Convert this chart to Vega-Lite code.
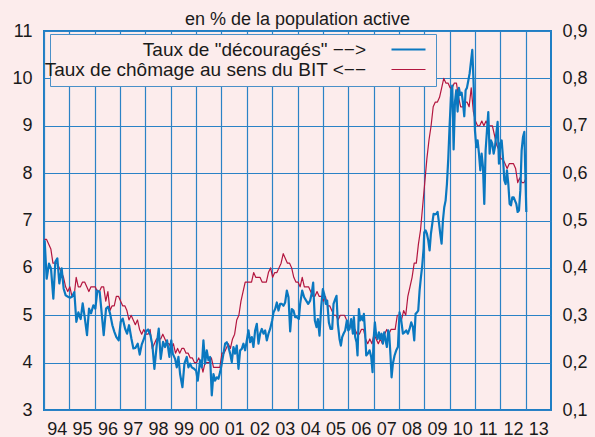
{
  "$schema": "https://vega.github.io/schema/vega-lite/v6.json",
  "width": 507,
  "height": 379,
  "autosize": {"type": "none"},
  "padding": {"left": 44, "top": 31, "right": 44, "bottom": 27},
  "background": "#fcecec",
  "config": {
    "font": "Liberation Sans",
    "view": {"stroke": "#1f7ec4", "strokeWidth": 2, "fill": "#fcecec"},
    "axis": {
      "labelFont": "Liberation Sans",
      "labelFontSize": 18,
      "labelColor": "#1a1a1a",
      "gridColor": "#2a82c6",
      "gridWidth": 1.2,
      "gridOpacity": 1,
      "ticks": false,
      "tickSize": 0,
      "domain": false,
      "title": null
    }
  },
  "title": {
    "text": "en % de la population active",
    "fontSize": 18,
    "fontWeight": "normal",
    "font": "Liberation Sans",
    "color": "#1a1a1a",
    "offset": -7,
    "anchor": "middle"
  },
  "datasets": {
    "chomage": [
      {"t":1994.02,"v":6.6},{"t":1994.103,"v":6.6},{"t":1994.187,"v":6.5},{"t":1994.27,"v":6.4},{"t":1994.353,"v":6.1},{"t":1994.437,"v":6.1},{"t":1994.52,"v":6.1},{"t":1994.603,"v":6.0},{"t":1994.687,"v":5.9},{"t":1994.77,"v":5.8},{"t":1994.853,"v":5.6},{"t":1994.937,"v":5.5},
      {"t":1995.02,"v":5.6},{"t":1995.103,"v":5.4},{"t":1995.187,"v":5.4},{"t":1995.27,"v":5.8},{"t":1995.353,"v":5.6},{"t":1995.437,"v":5.6},{"t":1995.52,"v":5.7},{"t":1995.603,"v":5.7},{"t":1995.687,"v":5.6},{"t":1995.77,"v":5.5},{"t":1995.853,"v":5.6},{"t":1995.937,"v":5.6},
      {"t":1996.02,"v":5.6},{"t":1996.103,"v":5.5},{"t":1996.187,"v":5.5},{"t":1996.27,"v":5.6},{"t":1996.353,"v":5.6},{"t":1996.437,"v":5.3},{"t":1996.52,"v":5.5},{"t":1996.603,"v":5.1},{"t":1996.687,"v":5.2},{"t":1996.77,"v":5.2},{"t":1996.853,"v":5.4},{"t":1996.937,"v":5.4},
      {"t":1997.02,"v":5.3},{"t":1997.103,"v":5.2},{"t":1997.187,"v":5.2},{"t":1997.27,"v":5.1},{"t":1997.353,"v":4.9},{"t":1997.437,"v":5.0},{"t":1997.52,"v":4.9},{"t":1997.603,"v":4.8},{"t":1997.687,"v":4.9},{"t":1997.77,"v":4.7},{"t":1997.853,"v":4.6},{"t":1997.937,"v":4.7},
      {"t":1998.02,"v":4.6},{"t":1998.103,"v":4.6},{"t":1998.187,"v":4.7},{"t":1998.27,"v":4.3},{"t":1998.353,"v":4.4},{"t":1998.437,"v":4.5},{"t":1998.52,"v":4.5},{"t":1998.603,"v":4.5},{"t":1998.687,"v":4.6},{"t":1998.77,"v":4.5},{"t":1998.853,"v":4.4},{"t":1998.937,"v":4.4},
      {"t":1999.02,"v":4.3},{"t":1999.103,"v":4.4},{"t":1999.187,"v":4.2},{"t":1999.27,"v":4.3},{"t":1999.353,"v":4.2},{"t":1999.437,"v":4.3},{"t":1999.52,"v":4.3},{"t":1999.603,"v":4.2},{"t":1999.687,"v":4.2},{"t":1999.77,"v":4.1},{"t":1999.853,"v":4.1},{"t":1999.937,"v":4.0},
      {"t":2000.02,"v":4.0},{"t":2000.103,"v":4.1},{"t":2000.187,"v":4.0},{"t":2000.27,"v":3.8},{"t":2000.353,"v":4.0},{"t":2000.437,"v":4.0},{"t":2000.52,"v":4.0},{"t":2000.603,"v":4.1},{"t":2000.687,"v":3.9},{"t":2000.77,"v":3.9},{"t":2000.853,"v":3.9},{"t":2000.937,"v":3.9},
      {"t":2001.02,"v":4.2},{"t":2001.103,"v":4.2},{"t":2001.187,"v":4.3},{"t":2001.27,"v":4.4},{"t":2001.353,"v":4.3},{"t":2001.437,"v":4.5},{"t":2001.52,"v":4.6},{"t":2001.603,"v":4.9},{"t":2001.687,"v":5.0},{"t":2001.77,"v":5.3},{"t":2001.853,"v":5.5},{"t":2001.937,"v":5.7},
      {"t":2002.02,"v":5.7},{"t":2002.103,"v":5.7},{"t":2002.187,"v":5.7},{"t":2002.27,"v":5.9},{"t":2002.353,"v":5.8},{"t":2002.437,"v":5.8},{"t":2002.52,"v":5.8},{"t":2002.603,"v":5.7},{"t":2002.687,"v":5.7},{"t":2002.77,"v":5.7},{"t":2002.853,"v":5.9},{"t":2002.937,"v":6.0},
      {"t":2003.02,"v":5.8},{"t":2003.103,"v":5.9},{"t":2003.187,"v":5.9},{"t":2003.27,"v":6.0},{"t":2003.353,"v":6.1},{"t":2003.437,"v":6.3},{"t":2003.52,"v":6.2},{"t":2003.603,"v":6.1},{"t":2003.687,"v":6.1},{"t":2003.77,"v":6.0},{"t":2003.853,"v":5.8},{"t":2003.937,"v":5.7},
      {"t":2004.02,"v":5.7},{"t":2004.103,"v":5.6},{"t":2004.187,"v":5.8},{"t":2004.27,"v":5.6},{"t":2004.353,"v":5.6},{"t":2004.437,"v":5.6},{"t":2004.52,"v":5.5},{"t":2004.603,"v":5.4},{"t":2004.687,"v":5.4},{"t":2004.77,"v":5.5},{"t":2004.853,"v":5.4},{"t":2004.937,"v":5.4},
      {"t":2005.02,"v":5.3},{"t":2005.103,"v":5.4},{"t":2005.187,"v":5.2},{"t":2005.27,"v":5.2},{"t":2005.353,"v":5.1},{"t":2005.437,"v":5.0},{"t":2005.52,"v":5.0},{"t":2005.603,"v":4.9},{"t":2005.687,"v":5.0},{"t":2005.77,"v":5.0},{"t":2005.853,"v":5.0},{"t":2005.937,"v":4.9},
      {"t":2006.02,"v":4.7},{"t":2006.103,"v":4.8},{"t":2006.187,"v":4.7},{"t":2006.27,"v":4.7},{"t":2006.353,"v":4.6},{"t":2006.437,"v":4.6},{"t":2006.52,"v":4.7},{"t":2006.603,"v":4.7},{"t":2006.687,"v":4.5},{"t":2006.77,"v":4.4},{"t":2006.853,"v":4.5},{"t":2006.937,"v":4.4},
      {"t":2007.02,"v":4.6},{"t":2007.103,"v":4.5},{"t":2007.187,"v":4.4},{"t":2007.27,"v":4.5},{"t":2007.353,"v":4.4},{"t":2007.437,"v":4.6},{"t":2007.52,"v":4.7},{"t":2007.603,"v":4.6},{"t":2007.687,"v":4.7},{"t":2007.77,"v":4.7},{"t":2007.853,"v":4.7},{"t":2007.937,"v":5.0},
      {"t":2008.02,"v":5.0},{"t":2008.103,"v":4.9},{"t":2008.187,"v":5.1},{"t":2008.27,"v":5.0},{"t":2008.353,"v":5.4},{"t":2008.437,"v":5.6},{"t":2008.52,"v":5.8},{"t":2008.603,"v":6.1},{"t":2008.687,"v":6.1},{"t":2008.77,"v":6.5},{"t":2008.853,"v":6.8},{"t":2008.937,"v":7.3},
      {"t":2009.02,"v":7.8},{"t":2009.103,"v":8.3},{"t":2009.187,"v":8.7},{"t":2009.27,"v":9.0},{"t":2009.353,"v":9.4},{"t":2009.437,"v":9.5},{"t":2009.52,"v":9.5},{"t":2009.603,"v":9.6},{"t":2009.687,"v":9.8},{"t":2009.77,"v":10.0},{"t":2009.853,"v":9.9},{"t":2009.937,"v":9.9},
      {"t":2010.02,"v":9.8},{"t":2010.103,"v":9.8},{"t":2010.187,"v":9.9},{"t":2010.27,"v":9.9},{"t":2010.353,"v":9.6},{"t":2010.437,"v":9.4},{"t":2010.52,"v":9.4},{"t":2010.603,"v":9.5},{"t":2010.687,"v":9.5},{"t":2010.77,"v":9.4},{"t":2010.853,"v":9.8},{"t":2010.937,"v":9.3},
      {"t":2011.02,"v":9.1},{"t":2011.103,"v":9.0},{"t":2011.187,"v":9.0},{"t":2011.27,"v":9.1},{"t":2011.353,"v":9.0},{"t":2011.437,"v":9.1},{"t":2011.52,"v":9.0},{"t":2011.603,"v":9.0},{"t":2011.687,"v":9.0},{"t":2011.77,"v":8.8},{"t":2011.853,"v":8.6},{"t":2011.937,"v":8.5},
      {"t":2012.02,"v":8.3},{"t":2012.103,"v":8.3},{"t":2012.187,"v":8.2},{"t":2012.27,"v":8.1},{"t":2012.353,"v":8.2},{"t":2012.437,"v":8.2},{"t":2012.52,"v":8.2},{"t":2012.603,"v":8.1},{"t":2012.687,"v":7.8},{"t":2012.77,"v":7.9},{"t":2012.853,"v":7.8},{"t":2012.937,"v":7.8},
      {"t":2013.02,"v":7.9}
    ],
    "decourages": [
      {"t":1994.026,"v":0.458},{"t":1994.105,"v":0.377},{"t":1994.197,"v":0.409},{"t":1994.276,"v":0.399},{"t":1994.368,"v":0.335},{"t":1994.447,"v":0.413},{"t":1994.526,"v":0.42},{"t":1994.605,"v":0.367},{"t":1994.697,"v":0.399},{"t":1994.776,"v":0.356},{"t":1994.855,"v":0.342},{"t":1994.947,"v":0.339},
      {"t":1995.026,"v":0.337},{"t":1995.105,"v":0.339},{"t":1995.197,"v":0.349},{"t":1995.276,"v":0.286},{"t":1995.355,"v":0.306},{"t":1995.447,"v":0.292},{"t":1995.526,"v":0.325},{"t":1995.605,"v":0.296},{"t":1995.697,"v":0.258},{"t":1995.776,"v":0.314},{"t":1995.855,"v":0.304},{"t":1995.947,"v":0.321},
      {"t":1996.026,"v":0.314},{"t":1996.105,"v":0.352},{"t":1996.197,"v":0.349},{"t":1996.276,"v":0.304},{"t":1996.355,"v":0.258},{"t":1996.447,"v":0.314},{"t":1996.526,"v":0.318},{"t":1996.605,"v":0.304},{"t":1996.697,"v":0.279},{"t":1996.776,"v":0.265},{"t":1996.855,"v":0.254},{"t":1996.947,"v":0.247},
      {"t":1997.026,"v":0.286},{"t":1997.105,"v":0.293},{"t":1997.197,"v":0.272},{"t":1997.276,"v":0.261},{"t":1997.355,"v":0.279},{"t":1997.447,"v":0.251},{"t":1997.526,"v":0.23},{"t":1997.605,"v":0.231},{"t":1997.697,"v":0.24},{"t":1997.776,"v":0.217},{"t":1997.855,"v":0.238},{"t":1997.947,"v":0.251},
      {"t":1998.026,"v":0.266},{"t":1998.105,"v":0.27},{"t":1998.197,"v":0.258},{"t":1998.276,"v":0.237},{"t":1998.355,"v":0.187},{"t":1998.447,"v":0.237},{"t":1998.526,"v":0.272},{"t":1998.605,"v":0.208},{"t":1998.697,"v":0.244},{"t":1998.776,"v":0.233},{"t":1998.855,"v":0.247},{"t":1998.947,"v":0.212},
      {"t":1999.02,"v":0.247},{"t":1999.079,"v":0.219},{"t":1999.171,"v":0.208},{"t":1999.237,"v":0.19},{"t":1999.303,"v":0.212},{"t":1999.368,"v":0.176},{"t":1999.461,"v":0.148},{"t":1999.539,"v":0.198},{"t":1999.632,"v":0.212},{"t":1999.697,"v":0.19},{"t":1999.763,"v":0.198},{"t":1999.829,"v":0.19},{"t":1999.921,"v":0.187},
      {"t":2000.0,"v":0.183},{"t":2000.066,"v":0.162},{"t":2000.158,"v":0.205},{"t":2000.224,"v":0.19},{"t":2000.289,"v":0.247},{"t":2000.355,"v":0.198},{"t":2000.421,"v":0.226},{"t":2000.487,"v":0.205},{"t":2000.553,"v":0.212},{"t":2000.618,"v":0.131},{"t":2000.684,"v":0.176},{"t":2000.75,"v":0.162},{"t":2000.816,"v":0.169},{"t":2000.882,"v":0.166},{"t":2000.947,"v":0.18},
      {"t":2001.0,"v":0.194},{"t":2001.079,"v":0.219},{"t":2001.145,"v":0.24},{"t":2001.211,"v":0.243},{"t":2001.276,"v":0.233},{"t":2001.342,"v":0.219},{"t":2001.408,"v":0.201},{"t":2001.474,"v":0.233},{"t":2001.539,"v":0.219},{"t":2001.605,"v":0.236},{"t":2001.671,"v":0.187},{"t":2001.737,"v":0.226},{"t":2001.803,"v":0.229},{"t":2001.868,"v":0.24},{"t":2001.934,"v":0.226},
      {"t":2002.0,"v":0.247},{"t":2002.066,"v":0.268},{"t":2002.132,"v":0.243},{"t":2002.197,"v":0.254},{"t":2002.263,"v":0.233},{"t":2002.329,"v":0.268},{"t":2002.395,"v":0.282},{"t":2002.461,"v":0.24},{"t":2002.526,"v":0.261},{"t":2002.592,"v":0.271},{"t":2002.658,"v":0.261},{"t":2002.724,"v":0.268},{"t":2002.789,"v":0.247},{"t":2002.855,"v":0.261},{"t":2002.921,"v":0.271},
      {"t":2003.0,"v":0.289},{"t":2003.053,"v":0.306},{"t":2003.118,"v":0.313},{"t":2003.184,"v":0.327},{"t":2003.25,"v":0.31},{"t":2003.316,"v":0.324},{"t":2003.382,"v":0.324},{"t":2003.447,"v":0.32},{"t":2003.513,"v":0.327},{"t":2003.579,"v":0.352},{"t":2003.645,"v":0.338},{"t":2003.711,"v":0.266},{"t":2003.776,"v":0.313},{"t":2003.842,"v":0.31},{"t":2003.908,"v":0.296},{"t":2003.974,"v":0.296},
      {"t":2004.053,"v":0.292},{"t":2004.105,"v":0.324},{"t":2004.184,"v":0.352},{"t":2004.263,"v":0.338},{"t":2004.342,"v":0.331},{"t":2004.421,"v":0.324},{"t":2004.5,"v":0.331},{"t":2004.566,"v":0.348},{"t":2004.618,"v":0.369},{"t":2004.684,"v":0.289},{"t":2004.75,"v":0.275},{"t":2004.803,"v":0.292},{"t":2004.868,"v":0.257},{"t":2004.934,"v":0.317},
      {"t":2005.0,"v":0.355},{"t":2005.053,"v":0.345},{"t":2005.118,"v":0.324},{"t":2005.171,"v":0.331},{"t":2005.237,"v":0.285},{"t":2005.303,"v":0.271},{"t":2005.368,"v":0.271},{"t":2005.421,"v":0.324},{"t":2005.487,"v":0.334},{"t":2005.539,"v":0.341},{"t":2005.592,"v":0.282},{"t":2005.658,"v":0.25},{"t":2005.711,"v":0.236},{"t":2005.763,"v":0.254},{"t":2005.816,"v":0.261},{"t":2005.882,"v":0.268},{"t":2005.947,"v":0.289},
      {"t":2006.0,"v":0.268},{"t":2006.053,"v":0.271},{"t":2006.118,"v":0.292},{"t":2006.184,"v":0.261},{"t":2006.224,"v":0.296},{"t":2006.276,"v":0.254},{"t":2006.329,"v":0.243},{"t":2006.368,"v":0.215},{"t":2006.421,"v":0.313},{"t":2006.474,"v":0.289},{"t":2006.526,"v":0.296},{"t":2006.579,"v":0.289},{"t":2006.618,"v":0.303},{"t":2006.671,"v":0.261},{"t":2006.711,"v":0.215},{"t":2006.776,"v":0.219},{"t":2006.842,"v":0.226},{"t":2006.908,"v":0.212},{"t":2006.961,"v":0.18},
      {"t":2007.0,"v":0.247},{"t":2007.053,"v":0.285},{"t":2007.105,"v":0.257},{"t":2007.158,"v":0.25},{"t":2007.211,"v":0.264},{"t":2007.263,"v":0.25},{"t":2007.316,"v":0.261},{"t":2007.368,"v":0.24},{"t":2007.421,"v":0.264},{"t":2007.474,"v":0.247},{"t":2007.526,"v":0.233},{"t":2007.579,"v":0.268},{"t":2007.618,"v":0.261},{"t":2007.671,"v":0.212},{"t":2007.711,"v":0.169},{"t":2007.763,"v":0.198},{"t":2007.829,"v":0.215},{"t":2007.895,"v":0.226},{"t":2007.961,"v":0.233},
      {"t":2008.0,"v":0.278},{"t":2008.026,"v":0.306},{"t":2008.092,"v":0.289},{"t":2008.158,"v":0.261},{"t":2008.224,"v":0.264},{"t":2008.289,"v":0.268},{"t":2008.355,"v":0.261},{"t":2008.421,"v":0.271},{"t":2008.487,"v":0.285},{"t":2008.553,"v":0.275},{"t":2008.605,"v":0.247},{"t":2008.658,"v":0.303},{"t":2008.711,"v":0.306},{"t":2008.763,"v":0.31},{"t":2008.816,"v":0.352},{"t":2008.868,"v":0.38},{"t":2008.921,"v":0.405},{"t":2008.974,"v":0.44},
      {"t":2009.0,"v":0.475},{"t":2009.053,"v":0.479},{"t":2009.105,"v":0.472},{"t":2009.158,"v":0.458},{"t":2009.211,"v":0.437},{"t":2009.263,"v":0.472},{"t":2009.316,"v":0.493},{"t":2009.368,"v":0.514},{"t":2009.421,"v":0.513},{"t":2009.474,"v":0.514},{"t":2009.526,"v":0.518},{"t":2009.579,"v":0.496},{"t":2009.632,"v":0.472},{"t":2009.684,"v":0.451},{"t":2009.737,"v":0.5},{"t":2009.789,"v":0.528},{"t":2009.842,"v":0.542},{"t":2009.895,"v":0.577},{"t":2009.947,"v":0.63},
      {"t":2010.0,"v":0.7},{"t":2010.053,"v":0.76},{"t":2010.105,"v":0.785},{"t":2010.158,"v":0.65},{"t":2010.211,"v":0.75},{"t":2010.263,"v":0.775},{"t":2010.316,"v":0.73},{"t":2010.368,"v":0.78},{"t":2010.421,"v":0.765},{"t":2010.474,"v":0.77},{"t":2010.526,"v":0.75},{"t":2010.579,"v":0.72},{"t":2010.632,"v":0.775},{"t":2010.684,"v":0.78},{"t":2010.737,"v":0.795},{"t":2010.789,"v":0.81},{"t":2010.842,"v":0.835},{"t":2010.895,"v":0.86},{"t":2010.947,"v":0.79},
      {"t":2011.0,"v":0.69},{"t":2011.053,"v":0.655},{"t":2011.105,"v":0.669},{"t":2011.158,"v":0.641},{"t":2011.211,"v":0.606},{"t":2011.263,"v":0.641},{"t":2011.316,"v":0.613},{"t":2011.368,"v":0.535},{"t":2011.421,"v":0.648},{"t":2011.474,"v":0.69},{"t":2011.526,"v":0.729},{"t":2011.579,"v":0.641},{"t":2011.632,"v":0.669},{"t":2011.684,"v":0.662},{"t":2011.737,"v":0.641},{"t":2011.789,"v":0.655},{"t":2011.842,"v":0.683},{"t":2011.895,"v":0.708},{"t":2011.947,"v":0.62},
      {"t":2012.0,"v":0.662},{"t":2012.053,"v":0.669},{"t":2012.105,"v":0.634},{"t":2012.158,"v":0.585},{"t":2012.211,"v":0.577},{"t":2012.263,"v":0.606},{"t":2012.316,"v":0.577},{"t":2012.368,"v":0.535},{"t":2012.421,"v":0.532},{"t":2012.474,"v":0.549},{"t":2012.526,"v":0.549},{"t":2012.579,"v":0.542},{"t":2012.632,"v":0.535},{"t":2012.684,"v":0.518},{"t":2012.737,"v":0.521},{"t":2012.789,"v":0.563},{"t":2012.842,"v":0.648},{"t":2012.895,"v":0.676},{"t":2012.947,"v":0.687},{"t":2013.026,"v":0.518}
    ]
  },
  "encoding": {
    "x": {
      "field": "t", "type": "quantitative",
      "scale": {"domain": [1994, 2014], "nice": false, "zero": false},
      "axis": {
        "values": [1994,1995,1996,1997,1998,1999,2000,2001,2002,2003,2004,2005,2006,2007,2008,2009,2010,2011,2012,2013],
        "labelExpr": "substring(toString(datum.value), 2)",
        "labelOffset": 12.7, "labelPadding": 10, "labelFlush": false, "labelOverlap": false, "labelBound": false, "grid": true
      }
    }
  },
  "layer": [
    {
      "data": {"name": "chomage"},
      "mark": {"type": "line", "strokeJoin": "round"},
      "encoding": {
        "y": {
          "field": "v", "type": "quantitative",
          "scale": {"domain": [3, 11], "nice": false, "zero": false},
          "axis": {"orient": "left", "values": [3,4,5,6,7,8,9,10,11], "labelPadding": 12, "grid": true}
        },
        "color": {
          "datum": "Taux de chômage au sens du BIT <−−", "type": "nominal",
          "scale": {"domain": ["Taux de \"découragés\" −−>", "Taux de chômage au sens du BIT <−−"], "range": ["#0a78c0", "#b3163f"]},
          "legend": {
            "orient": "none", "legendX": 6, "legendY": 3, "title": null, "direction": "vertical",
            "labelFont": "Liberation Sans", "labelFontSize": 19, "labelColor": "#1a1a1a", "labelAlign": "right", "labelLimit": 500,
            "labelOffset": -52, "symbolOffset": 343, "symbolType": "M-4,0H4", "symbolSize": 72.25, "symbolStrokeWidth": 1.8,
            "fillColor": "#fcecec", "strokeColor": "#4a90c8", "padding": 6, "rowPadding": 0
          }
        },
        "strokeWidth": {
          "datum": "Taux de chômage au sens du BIT <−−", "type": "nominal",
          "scale": {"domain": ["Taux de \"découragés\" −−>", "Taux de chômage au sens du BIT <−−"], "range": [2.2, 1.2]},
          "legend": null
        }
      }
    },
    {
      "data": {"name": "decourages"},
      "mark": {"type": "line", "strokeJoin": "round"},
      "encoding": {
        "y": {
          "field": "v", "type": "quantitative",
          "scale": {"domain": [0.1, 0.9], "nice": false, "zero": false},
          "axis": {"orient": "right", "values": [0.1,0.2,0.3,0.4,0.5,0.6,0.7,0.8,0.9], "labelExpr": "replace(format(datum.value, '.1f'), '.', ',')", "labelPadding": 11, "grid": false}
        },
        "color": {"datum": "Taux de \"découragés\" −−>", "type": "nominal"},
        "strokeWidth": {"datum": "Taux de \"découragés\" −−>", "type": "nominal"}
      }
    }
  ],
  "resolve": {"scale": {"y": "independent"}}
}
